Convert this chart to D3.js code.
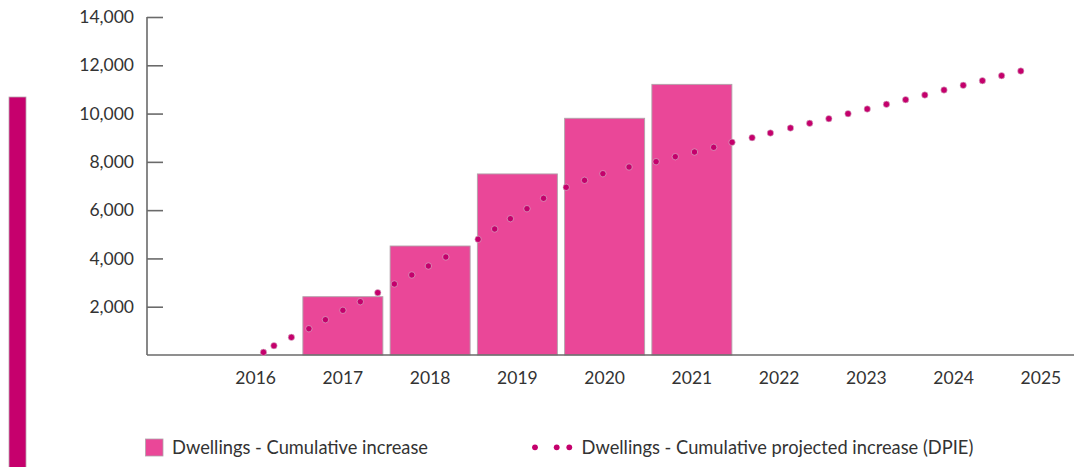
<!DOCTYPE html>
<html>
<head>
<meta charset="utf-8">
<script src="https://cdn.jsdelivr.net/npm/d3@7/dist/d3.min.js"></script>
<style>
  html, body { margin: 0; padding: 0; background: #fff; }
  svg { display: block; }
  text { font-family: Lato, "Open Sans", sans-serif; fill: #333; }
</style>
</head>
<body>
<svg id="chart" width="1074" height="467"></svg>
<script>
// Calendar years on the category axis
const years = ["2016", "2017", "2018", "2019", "2020", "2021", "2022", "2023", "2024", "2025"];

// Dwellings - cumulative increase (completed), one bar per year
const cumulativeIncrease = [0, 2415, 4515, 7500, 9805, 11210, null, null, null, null];

// Dwellings - cumulative projected increase (DPIE), as [year position, dwellings]
const projectedTime = [
  2016.09, 2016.21, 2016.41, 2016.61, 2016.80, 2017.00, 2017.20, 2017.40, 2017.59, 2017.79,
  2017.98, 2018.18, 2018.55, 2018.74, 2018.92, 2019.11, 2019.30, 2019.56, 2019.77, 2019.98,
  2020.28, 2020.59, 2020.81, 2021.03, 2021.25, 2021.46, 2021.69, 2021.90, 2022.13, 2022.35,
  2022.57, 2022.79, 2023.01, 2023.23, 2023.45, 2023.67, 2023.89, 2024.11, 2024.33, 2024.55,
  2024.77
];
const projectedValue = [
  112, 385, 733, 1089, 1462, 1851, 2208, 2581, 2941, 3314,
  3686, 4059, 4792, 5219, 5646, 6060, 6491, 6946, 7236, 7510,
  7787, 8007, 8214, 8408, 8603, 8810, 9001, 9195, 9402, 9597,
  9788, 9995, 10189, 10384, 10575, 10769, 10976, 11171, 11362, 11569,
  11763
];

// Y axis ticks
const yTicks = [2000, 4000, 6000, 8000, 10000, 12000, 14000];

const seriesNames = ["Dwellings - Cumulative increase", "Dwellings - Cumulative projected increase (DPIE)"];

const barColor = "#EA4798";
const dotColor = "#C4006C";
const axisColor = "#6a6a6a";

const svg = d3.select("#chart");

// accent strip on the left edge
svg.append("rect")
  .attr("x", 9).attr("y", 97).attr("width", 17).attr("height", 380)
  .attr("fill", "#C6006D")
  .attr("stroke", "#b9a6b0").attr("stroke-width", 0.8);

const axisLeftX = 147;
const baseY = 355;

const y = d3.scaleLinear().domain([0, 14000]).range([baseY, 17]);

const x = d3.scaleBand()
  .domain(years)
  .range([212, 1084.5])
  .paddingInner(0.083)
  .paddingOuter(0.0415);

const bw = x.bandwidth();
const xYear = d3.scaleLinear()
  .domain([2016, 2025])
  .range([x("2016") + bw / 2, x("2025") + bw / 2]);

// Y axis with ticks pointing into the plot
const yAxis = d3.axisRight(y)
  .tickValues(yTicks)
  .tickSize(16)
  .tickFormat(d3.format(","));

const gy = svg.append("g")
  .attr("transform", `translate(${axisLeftX},0)`)
  .call(yAxis);
gy.select(".domain").remove();
gy.selectAll(".tick line").attr("stroke", axisColor).attr("stroke-width", 1.6);
gy.selectAll(".tick text")
  .attr("x", -13)
  .attr("text-anchor", "end")
  .attr("font-size", 17.5)
  .attr("fill", "#333");

svg.append("line")
  .attr("x1", axisLeftX).attr("x2", axisLeftX)
  .attr("y1", y(14000)).attr("y2", baseY)
  .attr("stroke", axisColor).attr("stroke-width", 1.6);

// Bars
const barData = years.map((yr, i) => ({ yr, v: cumulativeIncrease[i] })).filter(d => d.v !== null);
svg.append("g")
  .selectAll("rect")
  .data(barData)
  .join("rect")
  .attr("x", d => x(d.yr))
  .attr("y", d => y(d.v))
  .attr("width", bw)
  .attr("height", d => baseY - y(d.v))
  .attr("fill", barColor)
  .attr("stroke", d => d.v === 0 ? "#222" : "#b0a3aa")
  .attr("stroke-width", d => d.v === 0 ? 1.4 : 0.9);

// X axis baseline and labels
const xAxis = d3.axisBottom(x).tickSize(0).tickPadding(17);
const gx = svg.append("g")
  .attr("transform", `translate(0,${baseY})`)
  .call(xAxis);
gx.select(".domain").remove();
gx.selectAll(".tick text").attr("font-size", 17.5).attr("fill", "#333");

svg.append("line")
  .attr("x1", axisLeftX).attr("x2", 1074)
  .attr("y1", baseY).attr("y2", baseY)
  .attr("stroke", axisColor).attr("stroke-width", 1.6);

// Projected series, drawn as dots
const projData = projectedTime.map((t, i) => ({ t, v: projectedValue[i] }));
svg.append("g")
  .selectAll("circle")
  .data(projData)
  .join("circle")
  .attr("cx", d => xYear(d.t))
  .attr("cy", d => y(d.v))
  .attr("r", 3.2)
  .attr("fill", dotColor)
  .attr("stroke", "#d9c3cf")
  .attr("stroke-width", 0.6);

// Legend
const lg = svg.append("g");
lg.append("rect")
  .attr("x", 145.5).attr("y", 439).attr("width", 17.5).attr("height", 17)
  .attr("fill", barColor).attr("stroke", "#b0a3aa").attr("stroke-width", 0.8);
lg.append("text")
  .attr("x", 172).attr("y", 454)
  .attr("font-size", 18.3)
  .text(seriesNames[0]);

[535, 556.7, 569.3].forEach(cx => {
  lg.append("circle").attr("cx", cx).attr("cy", 447.3).attr("r", 2.9).attr("fill", dotColor);
});
lg.append("text")
  .attr("x", 581.5).attr("y", 454)
  .attr("font-size", 18.3)
  .text(seriesNames[1]);
</script>
</body>
</html>
